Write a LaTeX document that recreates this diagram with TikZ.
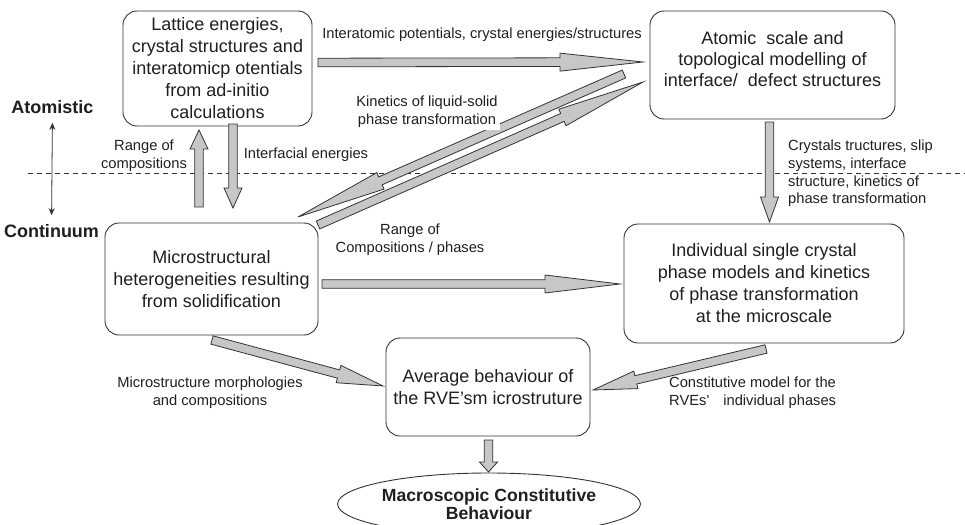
\documentclass[tikz,border=0pt]{standalone}
\usepackage{fontspec}
\setmainfont{Liberation Sans}
\usepackage{xcolor}
\usetikzlibrary{arrows.meta,positioning,calc,shapes.geometric}
\definecolor{linegray}{gray}{0.2}
\definecolor{fillgray}{gray}{0.78}
\definecolor{inkgray}{gray}{0.12}
\tikzset{>={Stealth[length=7pt,width=6pt]}}
\tikzset{
  box/.style={draw=linegray, line width=0.9pt, rounded corners=14pt, align=center,
    inner sep=0pt, text=inkgray, font=\fontsize{18}{22}\selectfont},
  lbl/.style={align=center, inner sep=1pt, text=inkgray, font=\fontsize{14.7}{17.7}\selectfont},
  side/.style={inner sep=0pt, text=inkgray, font=\fontsize{18}{22}\selectfont\bfseries},
  fatarr/.style={draw=linegray, fill=fillgray, line width=0.8pt, line join=miter},
}
% broad grey arrow: from, to, head length
\newcommand{\fatarrow}[3]{%
  \path[fatarr] let \p1=(#1), \p2=(#2), \n1={atan2(\y2-\y1,\x2-\x1)},
      \n2={veclen(\x2-\x1,\y2-\y1)} in
    [shift={(\p1)}, rotate=\n1]
    (0pt,4.3pt) -- ({(\n2-#3)*1pt},4.3pt) -- ({(\n2-#3)*1pt},9pt) -- ({\n2*1pt},0pt)
    -- ({(\n2-#3)*1pt},-9pt) -- ({(\n2-#3)*1pt},-4.3pt) -- (0pt,-4.3pt) -- cycle;
}

\begin{document}
\begin{tikzpicture}[x=1pt,y=-1pt]
    \path[use as bounding box, clip] (0,0) rectangle (965,524);

    % boxes
    \node[box, minimum width=189pt, minimum height=115pt] (abinitio) at (217.5,68.5)
      {Lattice energies,\\crystal structures and\\interatomicp otentials\\from ad-initio\\calculations};
    \node[box, minimum width=245pt, minimum height=108pt] (atomscale) at (772.5,65) {};
    \node[box, draw=none, font=\fontsize{18}{21}\selectfont] (atomtxt) at ([yshift=6pt]atomscale.center)
      {Atomic\ \ scale and\\topological modelling of\\interface/\ \ defect structures};
    \node[box, minimum width=213pt, minimum height=112pt] (microhet) at (211.5,279)
      {Microstructural\\heterogeneities resulting\\from solidification};
    \node[box, minimum width=280pt, minimum height=119pt] (singlecrystal) at (764,283.5)
      {Individual single crystal\\phase models and kinetics\\of phase transformation\\at the microscale};
    \node[box, minimum width=204pt, minimum height=98pt] (rveavg) at (488,387)
      {Average behaviour of\\the RVE'sm icrostruture};
    \node[box, ellipse, rounded corners=0pt, minimum width=238pt, minimum height=62pt,
      font=\fontsize{17.6}{18.5}\selectfont\bfseries] (macro) at (489,504)
      {Macroscopic Constitutive\\Behaviour};

    % atomistic / continuum scale
    \node[side] (atomlbl) at (52.5,107) {Atomistic};
    \node[side] (contlbl) at (51.5,231) {Continuum};
    \draw[<->, linegray, line width=0.8pt, shorten <=9pt, shorten >=9pt] (atomlbl.south) -- (contlbl.north);
    \draw[linegray, line width=0.7pt, dash pattern=on 5pt off 4pt] (28,173) -- (965,173);

    % arrow end points
    \coordinate (potS) at (318,62.5);   \coordinate (potE) at (643,62);
    \coordinate (kinS) at (624,74);     \coordinate (kinE) at (298,217);
    \coordinate (rngS) at (318,225);    \coordinate (rngE) at (643,82);
    \coordinate (upS) at (199,207);     \coordinate (upE) at (199,130);
    \coordinate (dnS) at (233,124);     \coordinate (dnE) at (233,208);
    \coordinate (cryS) at (769.5,122);  \coordinate (cryE) at (769.5,222);
    \coordinate (horS) at (322,284);    \coordinate (horE) at (620,284);
    \coordinate (morS) at (212,340);    \coordinate (morE) at (383,386);
    \coordinate (conS) at (766,349);    \coordinate (conE) at (593,390);
    \coordinate (macS) at (488.5,440);  \coordinate (macE) at (488.5,472);

    \fatarrow{potS}{potE}{83}
    \fatarrow{kinS}{kinE}{90}
    \fatarrow{rngS}{rngE}{88}
    \fatarrow{upS}{upE}{19}
    \fatarrow{dnS}{dnE}{20}
    \fatarrow{cryS}{cryE}{25}
    \fatarrow{horS}{horE}{75}
    \fatarrow{morS}{morE}{46}
    \fatarrow{conS}{conE}{44}
    \fatarrow{macS}{macE}{10}

    % arrow labels
    \node[lbl] (potlbl) at (482,35) {Interatomic potentials, crystal energies/structures};
    \node[lbl, fill=white, inner sep=2pt] (kinlbl) at (427,112) {Kinetics of liquid-solid\\phase transformation};
    \node[lbl] (rnglbl) at (144,156) {Range of\\compositions};
    \node[lbl] (intlbl) at (306,155) {Interfacial energies};
    \node[lbl] (complbl) at (410,240) {Range of\\Compositions / phases};
    \node[lbl, anchor=west, align=left] (crylbl) at (787,173.5)
      {Crystals tructures, slip\\systems, interface\\structure, kinetics of\\phase transformation};
    \node[lbl] (morlbl) at (210,393) {Microstructure morphologies\\and compositions};
    \node[lbl, anchor=west, align=left] (conlbl) at (668,393)
      {Constitutive model for the\\RVEs\textquotesingle\hspace{14pt}individual phases};
\end{tikzpicture}
\end{document}
